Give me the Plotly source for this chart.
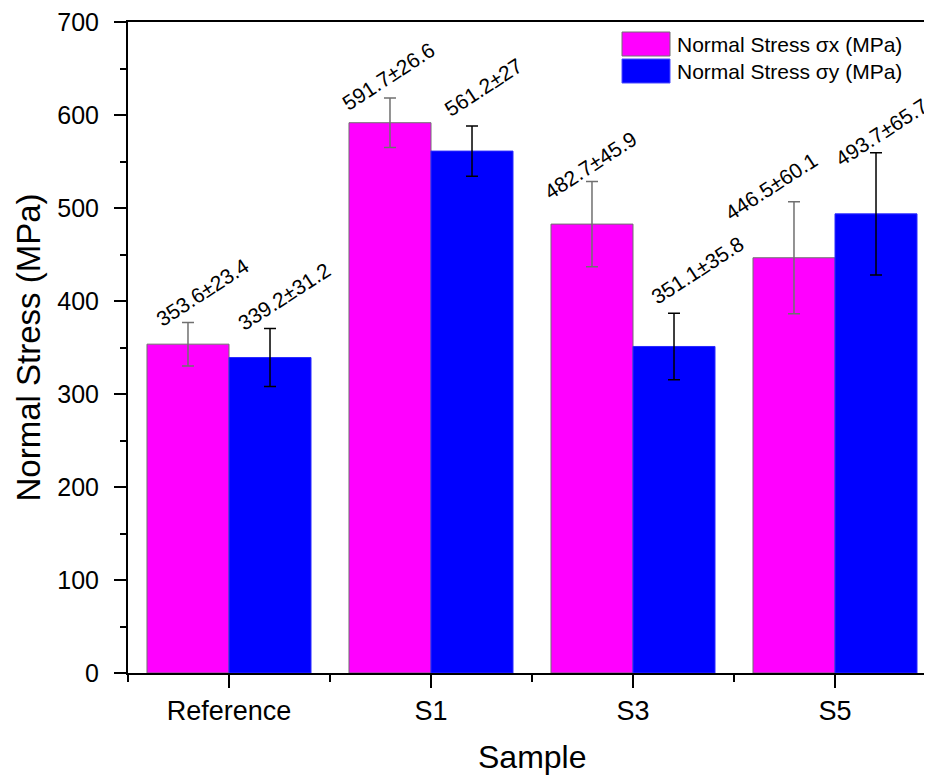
import plotly.graph_objects as go

# ---- data ----
categories = ["Reference", "S1", "S3", "S5"]
sigma_x = [353.6, 591.7, 482.7, 446.5]
sigma_x_err = [23.4, 26.6, 45.9, 60.1]
sigma_y = [339.2, 561.2, 351.1, 493.7]
sigma_y_err = [31.2, 27, 35.8, 65.7]
series_names = ["Normal Stress σx (MPa)", "Normal Stress σy (MPa)"]
y_ticks = [0, 100, 200, 300, 400, 500, 600, 700]

# ---- layout constants ----
OFF = 8  # page body margin
W, H = 932 - OFF, 781 - OFF
ML, MR, MT, MB = 128 - OFF, 0, 22 - OFF, 108
PW, PH = W - ML - MR, H - MT - MB
X_RANGE = [-0.5, -0.5 + PW / 202.0]
FONT = "Arial, Liberation Sans, sans-serif"
MAGENTA, BLUE = "#FF00FF", "#0000FF"

# label placement (pixel offset from category centre, data offset above error cap)
lab_dx_x = [-27, -43, -43, -64]
lab_dy_x = [32, 23, 17, 16]
lab_dx_y = [55, 52, 64, 46]
lab_dy_y = [34, 41, 46, 22]

xs = list(range(len(categories)))
px_per_unit = PW / (X_RANGE[1] - X_RANGE[0])

def py(y_page):
    """page pixel y -> paper fraction"""
    return (MT + PH - (y_page - OFF)) / PH

def px(x_page):
    return ((x_page - OFF) - ML) / PW

fig = go.Figure()
fig.add_trace(go.Bar(
    x=xs, y=sigma_x, name=series_names[0],
    marker=dict(color=MAGENTA, line=dict(color="#707070", width=1)),
    error_y=dict(type="data", array=sigma_x_err, visible=True,
                 color="#707070", thickness=1.5, width=6),
    showlegend=False,
))
fig.add_trace(go.Bar(
    x=xs, y=sigma_y, name=series_names[1],
    marker=dict(color=BLUE, line=dict(color="#2a2aff", width=1)),
    error_y=dict(type="data", array=sigma_y_err, visible=True,
                 color="#000000", thickness=1.5, width=6),
    showlegend=False,
))

def fmt(v):
    return f"{v:g}"

annotations = []
for i in xs:
    for vals, errs, dxs, dys in ((sigma_x, sigma_x_err, lab_dx_x, lab_dy_x),
                                 (sigma_y, sigma_y_err, lab_dx_y, lab_dy_y)):
        annotations.append(dict(
            x=i + dxs[i] / px_per_unit, y=vals[i] + errs[i] + dys[i],
            xref="x", yref="y", text=f"{fmt(vals[i])}±{fmt(errs[i])}",
            textangle=-33, showarrow=False, xanchor="center", yanchor="middle",
            font=dict(family=FONT, size=21, color="black"),
        ))

# axis titles
annotations.append(dict(
    x=px(28), xref="paper", y=py(347.5), yref="paper",
    text="Normal Stress (MPa)", textangle=-90, showarrow=False,
    xanchor="center", yanchor="middle",
    font=dict(family=FONT, size=33, color="black"),
))
annotations.append(dict(
    x=1.5, xref="x", y=py(757), yref="paper",
    text="Sample", showarrow=False, xanchor="center", yanchor="middle",
    font=dict(family=FONT, size=32, color="black"),
))

# manual legend
shapes = []
leg_rows = [(32, 56, 44, MAGENTA, "#707070"), (59, 83, 71, BLUE, "#4a4aff")]
for (top, bot, mid, fill, edge), name in zip(leg_rows, series_names):
    shapes.append(dict(
        type="rect", xref="paper", yref="paper",
        x0=px(622), x1=px(670), y0=py(bot), y1=py(top),
        fillcolor=fill, line=dict(color=edge, width=1),
    ))
    annotations.append(dict(
        x=px(675), xref="paper", y=py(mid), yref="paper",
        text=name, showarrow=False, xanchor="left", yanchor="middle",
        font=dict(family=FONT, size=21, color="black"),
    ))

fig.update_layout(
    width=W, height=H,
    margin=dict(l=ML, r=MR, t=MT, b=MB, pad=0),
    paper_bgcolor="white", plot_bgcolor="white",
    barmode="group", bargap=0.188, bargroupgap=0,
    annotations=annotations, shapes=shapes,
    showlegend=False,
    font=dict(family=FONT, color="black"),
)
fig.update_xaxes(
    range=X_RANGE, tickmode="array", tickvals=xs, ticktext=categories,
    showline=True, linecolor="black", linewidth=2, mirror=True,
    ticks="outside", ticklen=13, tickwidth=2, tickcolor="black",
    minor=dict(tickmode="linear", tick0=0.5, dtick=1, ticks="outside",
               ticklen=7, tickwidth=2, tickcolor="black"),
    showgrid=False, zeroline=False,
    tickfont=dict(family=FONT, size=27, color="black"),
    ticklabelstandoff=0, ticklabeloverflow="allow",
)
fig.update_yaxes(
    range=[0, 700], tickmode="array", tickvals=y_ticks,
    showline=True, linecolor="black", linewidth=2,
    ticks="outside", ticklen=12, tickwidth=2, tickcolor="black",
    minor=dict(tickmode="linear", tick0=50, dtick=100, ticks="outside",
               ticklen=6, tickwidth=2, tickcolor="black"),
    showgrid=False, zeroline=False,
    tickfont=dict(family=FONT, size=25, color="black"),
    ticklabelstandoff=10, ticklabeloverflow="allow",
)

fig.write_html("out.html")
